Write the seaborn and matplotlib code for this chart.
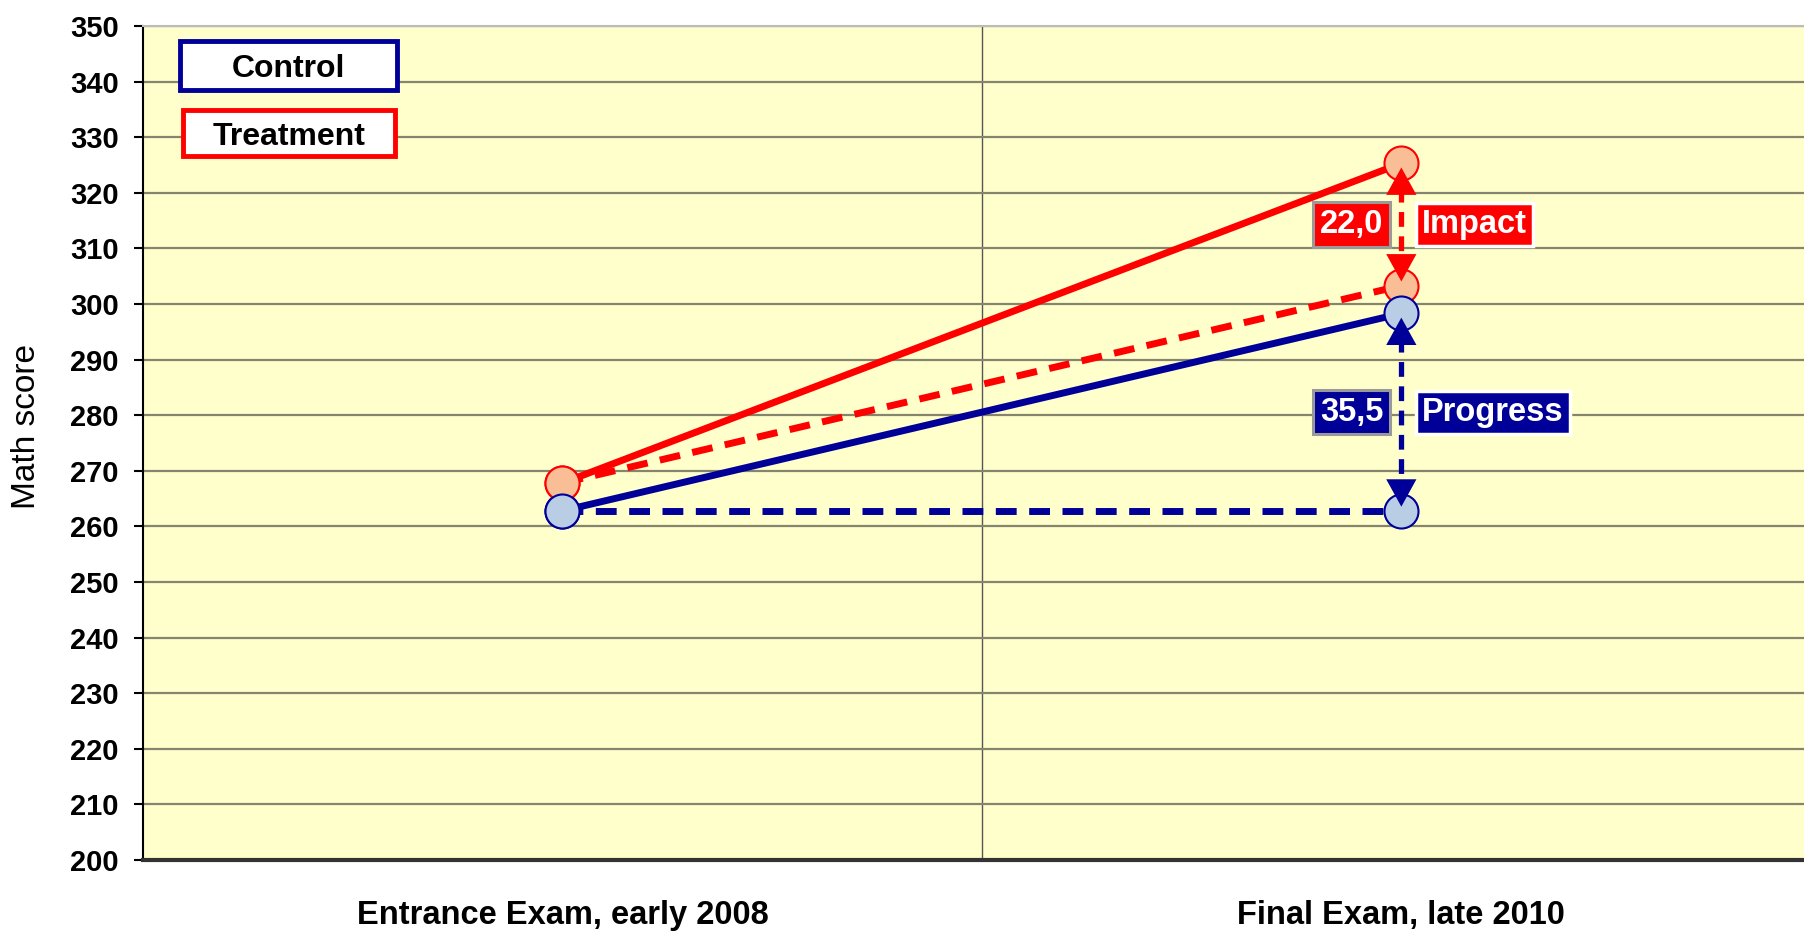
import matplotlib
matplotlib.use("Agg")
import matplotlib.pyplot as plt
from matplotlib.patches import Rectangle
import seaborn as sns

# --------- valores ---------
exams = ["Entrance Exam, early 2008", "Final Exam, late 2010"]
control = [262.8, 298.3]
treatment = [267.8, 325.3]
treatment_no_impact = [267.8, 303.3]   # tratamento se só tivesse o progresso do controle
control_start = [262.8, 262.8]         # nível inicial do controle
series_names = ["Control", "Treatment"]
tags = ["Progress", "Impact"]
# --------------------------------------------

RED = "#FF0000"
NAVY = "#000099"
RED_FILL = "#F9BE96"
BLUE_FILL = "#B9CDE5"
BG = "#FFFFCC"
GRID = "#85856E"
DASH = (0, (3.0, 1.8))


def fmt(v):
    return f"{v:.1f}".replace(".", ",")


def double_arrow(ax, x, y_top, y_bot, color):
    ax.plot([x, x], [y_top, y_bot], color=color, lw=3.8, linestyle=(0, (2.8, 1.8)), zorder=2.5)
    head = dict(arrowstyle="-|>,head_length=0.58,head_width=0.32", mutation_scale=34,
                color=color, lw=0, shrinkA=0, shrinkB=3)
    ax.annotate("", xy=(x, y_top), xytext=(0, -34), textcoords="offset points",
                arrowprops=head, zorder=6)
    ax.annotate("", xy=(x, y_bot), xytext=(0, 34), textcoords="offset points",
                arrowprops=head, zorder=6)


def tag_pair(ax, x, y, value, name, face):
    ax.annotate(fmt(value), xy=(x, y), xytext=(-13, 0), textcoords="offset points",
                ha="right", va="center", color="white", fontsize=23.5, fontweight="bold",
                bbox=dict(boxstyle="square,pad=0.2", fc=face, ec="#9A9A9A", lw=2.2), zorder=7)
    ax.annotate(name, xy=(x, y), xytext=(15, 0), textcoords="offset points",
                ha="left", va="center", color="white", fontsize=23.5, fontweight="bold",
                bbox=dict(boxstyle="square,pad=0.18", fc=face, ec="white", lw=2.5), zorder=7)


def main():
    sns.set_style("white")
    plt.rcParams["font.family"] = ["Liberation Sans", "DejaVu Sans"]
    plt.rcParams["text.color"] = "black"
    plt.rcParams["axes.labelcolor"] = "black"
    plt.rcParams["xtick.color"] = "black"
    plt.rcParams["ytick.color"] = "black"

    fig, ax = plt.subplots(figsize=(18.04, 9.31), dpi=100)
    fig.subplots_adjust(left=143 / 1804, right=1.0, bottom=71 / 931, top=905 / 931)
    ax.set_facecolor(BG)

    kw = dict(marker="o", markersize=24.5, linewidth=5, markeredgewidth=1.5, sort=False, ax=ax)
    sns.lineplot(x=exams, y=control_start, color=NAVY, linestyle=DASH,
                 markerfacecolor=BLUE_FILL, markeredgecolor=NAVY, zorder=3, **kw)
    sns.lineplot(x=exams, y=treatment_no_impact, color=RED, linestyle=DASH,
                 markerfacecolor=RED_FILL, markeredgecolor=RED, zorder=3.1, **kw)
    sns.lineplot(x=exams, y=treatment, color=RED,
                 markerfacecolor=RED_FILL, markeredgecolor=RED, zorder=3.2, **kw)
    sns.lineplot(x=exams, y=control, color=NAVY,
                 markerfacecolor=BLUE_FILL, markeredgecolor=NAVY, zorder=3.3, **kw)

    # setas de impacto e progresso no exame final
    xf = len(exams) - 1
    double_arrow(ax, xf, treatment[1], treatment_no_impact[1], RED)
    double_arrow(ax, xf, control[1], control_start[1], NAVY)
    tag_pair(ax, xf, (treatment[1] + treatment_no_impact[1]) / 2,
             treatment[1] - treatment_no_impact[1], tags[1], RED)
    tag_pair(ax, xf, (control[1] + control_start[1]) / 2,
             control[1] - control_start[1], tags[0], NAVY)

    # eixos
    ax.set_ylim(200, 350)
    ax.set_xlim(-0.5, 1.48)
    ax.set_yticks(range(200, 351, 10))
    ax.set_xticks(range(len(exams)))
    ax.set_xticklabels(exams)
    ax.set_xticks([0.5], minor=True)
    ax.grid(axis="y", which="major", color=GRID, lw=1.6)
    ax.grid(axis="x", which="minor", color="#555555", lw=1.0)
    ax.set_axisbelow(True)
    ax.tick_params(axis="x", which="both", length=0, pad=29, labelsize=23.5)
    ax.tick_params(axis="y", length=6.5, width=1.5, pad=11, labelsize=21, direction="out", left=True)
    plt.setp(ax.get_xticklabels(), fontweight="bold")
    plt.setp(ax.get_yticklabels(), fontweight="bold")
    ax.set_xlabel("")
    ax.set_ylabel("Math score", fontsize=24)
    ax.yaxis.set_label_coords(-0.061, 0.52)

    ax.spines["left"].set_color("black")
    ax.spines["left"].set_linewidth(1.5)
    ax.spines["bottom"].set_color("#333333")
    ax.spines["bottom"].set_linewidth(3)
    ax.spines["top"].set_color("#BBBBBB")
    ax.spines["top"].set_linewidth(1.5)
    ax.spines["right"].set_visible(False)

    # "legenda" em caixas
    boxes = [(0.0223, 0.9233, 0.1306, 0.0588, NAVY), (0.0241, 0.8441, 0.1276, 0.0552, RED)]
    for name, (x0, y0, w, h, col) in zip(series_names, boxes):
        ax.add_patch(Rectangle((x0, y0), w, h, transform=ax.transAxes, fc="white",
                               ec=col, lw=3.5, zorder=8))
        ax.text(x0 + w / 2, y0 + h / 2, name, transform=ax.transAxes, ha="center",
                va="center_baseline", fontsize=23, fontweight="bold", zorder=9)

    fig.savefig("out.png", dpi=100, facecolor="white")


if __name__ == "__main__":
    main()
